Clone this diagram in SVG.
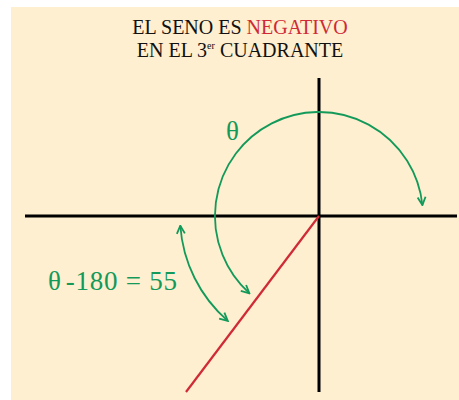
<svg xmlns="http://www.w3.org/2000/svg" width="459" height="400" viewBox="0 0 459 400">
<style>
.bg{fill:#fdefcf}
.axis{stroke:#000;stroke-width:3;fill:none}
.ray{stroke:#cf2a36;stroke-width:2.2;fill:none}
.arc{stroke:#13995a;stroke-width:1.8;fill:none}
.title{font-size:20px;fill:#111}
.neg{fill:#d02a36}
.lbl{font-size:27px;fill:#13995a}
</style>
<defs>
<marker id="arr" viewBox="0 0 10 10" refX="9" refY="5" markerWidth="10" markerHeight="10" markerUnits="userSpaceOnUse" orient="auto-start-reverse">
<path d="M1,1 L9,5 L1,9" fill="none" stroke="#13995a" stroke-width="1.8"/>
</marker>
</defs>
<rect class="bg" x="11" y="7" width="448" height="393"/>
<g id="title" font-family="'Liberation Serif', serif">
<text class="title" x="240" y="34" text-anchor="middle">EL SENO ES <tspan class="neg">NEGATIVO</tspan></text>
<text class="title" x="240" y="57" text-anchor="middle">EN EL 3<tspan font-size="10" dy="-8">er</tspan><tspan dy="8"> CUADRANTE</tspan></text>
</g>
<g id="axes">
<line class="axis" x1="25" y1="216" x2="457" y2="216"/>
<line class="axis" x1="319" y1="78" x2="319" y2="392"/>
</g>
<g id="ray">
<line class="ray" x1="319" y1="216" x2="186" y2="392"/>
</g>
<g id="connectors">
<path class="arc" d="M422.4,205.1 A104,104 0 1 0 249.4,293.3" marker-start="url(#arr)" marker-end="url(#arr)"/>
<path class="arc" d="M180.3,225.7 A139,139 0 0 0 227.8,320.9" marker-start="url(#arr)" marker-end="url(#arr)"/>
</g>
<g id="labels" font-family="'Liberation Serif', serif">
<text class="lbl" x="226" y="140">θ</text>
<text class="lbl" x="48" y="290" textLength="129" lengthAdjust="spacing">θ<tspan dx="4">-180 = 55</tspan></text>
</g>
</svg>
